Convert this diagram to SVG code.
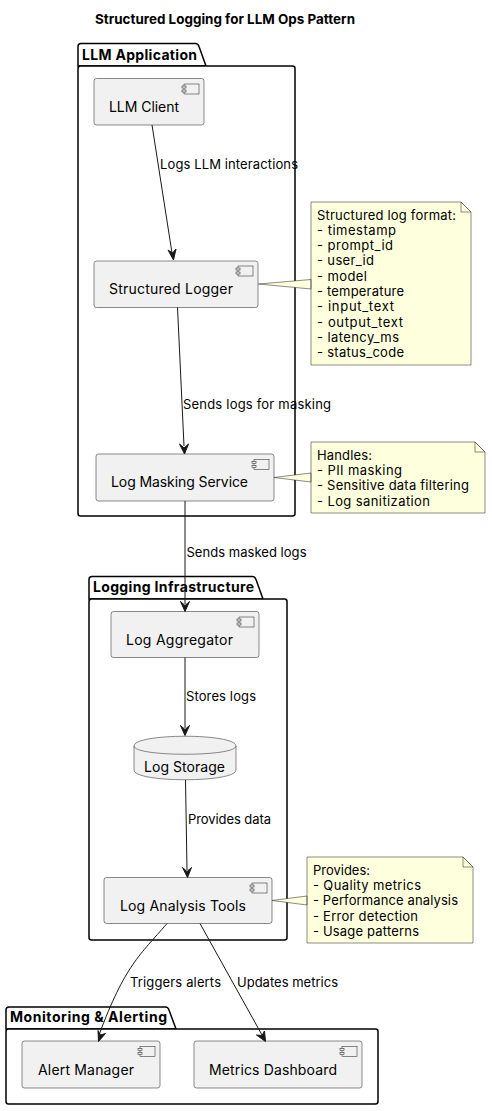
<svg xmlns="http://www.w3.org/2000/svg" width="492" height="1111" viewBox="0 0 492 1111">
<defs>
<style>
text{font-family:Inter,"Noto Sans",sans-serif;fill:#000}
.title{font-size:13.400px;font-weight:700}
.pkgt{font-size:14px;font-weight:700}
.lbl{font-size:13px}
.nt{font-size:13px}
.cl{font-size:14px}
.pkg{fill:#fff;stroke:#000;stroke-width:1.5}
.box{fill:#f1f1f1;stroke:#181818;stroke-width:.5}
.ico{fill:#f1f1f1;stroke:#181818;stroke-width:.5}
.note{fill:#feffdd;stroke:#181818;stroke-width:.5}
.edge{fill:none;stroke:#181818;stroke-width:1}
.head{fill:#181818;stroke:#181818;stroke-width:1}
</style>
<g id="icon"><rect class="ico" x="-15" y="0" width="15" height="10"/><rect class="ico" x="-17" y="2" width="4" height="2"/><rect class="ico" x="-17" y="6" width="4" height="2"/></g>
</defs>
<rect width="492" height="1111" fill="#fff"/>
<text class="title" x="95" y="24" textLength="260">Structured Logging for LLM Ops Pattern</text>

<g id="pkg-llm">
<path class="pkg" d="M78 66V46.500Q78 43.500 81 43.500H195.500Q198 43.500 199 46.500L206 66Z"/>
<rect class="pkg" x="78" y="66" width="217" height="450" rx="2.500"/>
<text class="pkgt" x="82" y="60" textLength="115">LLM Application</text>
</g>
<g id="pkg-infra">
<path class="pkg" d="M89 599V579.500Q89 576.500 92 576.500H252.500Q255 576.500 256 579.500L263 599Z"/>
<rect class="pkg" x="89" y="599" width="198" height="341" rx="2.500"/>
<text class="pkgt" x="93" y="592" textLength="161">Logging Infrastructure</text>
</g>
<g id="pkg-mon">
<path class="pkg" d="M6 1029V1010Q6 1007 9 1007H165.500Q168 1007 169 1010L176 1029Z"/>
<rect class="pkg" x="6" y="1029" width="372" height="75" rx="2.500"/>
<text class="pkgt" x="10" y="1022" textLength="157">Monitoring &amp; Alerting</text>
</g>

<g id="n-client"><rect class="box" x="94" y="78.500" width="110" height="46.500" rx="2.500"/><use href="#icon" x="199" y="84"/><text class="cl" x="109" y="112" textLength="70">LLM Client</text></g>
<g id="n-logger"><rect class="box" x="94" y="261" width="164" height="46.500" rx="2.500"/><use href="#icon" x="253" y="266"/><text class="cl" x="109" y="294" textLength="124">Structured Logger</text></g>
<g id="n-mask"><rect class="box" x="96" y="454" width="178" height="47" rx="2.500"/><use href="#icon" x="269" y="459.500"/><text class="cl" x="111" y="487" textLength="137">Log Masking Service</text></g>
<g id="n-agg"><rect class="box" x="111" y="611.500" width="148" height="46" rx="2.500"/><use href="#icon" x="254" y="617"/><text class="cl" x="126" y="645" textLength="107">Log Aggregator</text></g>
<g id="n-storage"><path class="box" d="M134 746C134 733 236 733 236 746V770C236 783 134 783 134 770Z"/><path class="box" style="fill:none" d="M134 746C134 757 236 757 236 746"/><text class="cl" x="144" y="772" textLength="81">Log Storage</text></g>
<g id="n-tools"><rect class="box" x="104" y="877.500" width="168" height="46" rx="2.500"/><use href="#icon" x="267" y="883"/><text class="cl" x="120" y="911" textLength="126">Log Analysis Tools</text></g>
<g id="n-alert"><rect class="box" x="22" y="1041" width="138" height="47" rx="2.500"/><use href="#icon" x="155" y="1046.500"/><text class="cl" x="38" y="1075" textLength="96">Alert Manager</text></g>
<g id="n-metrics"><rect class="box" x="194" y="1041" width="168" height="47" rx="2.500"/><use href="#icon" x="357" y="1046.500"/><text class="cl" x="209" y="1075" textLength="128">Metrics Dashboard</text></g>

<g id="n-note1">
<path class="note" d="M311 202H461L471 212V365H311V279.500L258.500 284L311 289Z"/>
<path class="note" d="M461 202V212H471Z"/>
<text class="nt" x="317" y="220" textLength="139">Structured log format:</text><text class="nt" x="317" y="235" textLength="79">- timestamp</text><text class="nt" x="317" y="250" textLength="76">- prompt_id</text><text class="nt" x="317" y="265" textLength="57">- user_id</text><text class="nt" x="317" y="281" textLength="50">- model</text><text class="nt" x="317" y="296" textLength="87">- temperature</text><text class="nt" x="317" y="311" textLength="77">- input_text</text><text class="nt" x="317" y="327" textLength="86">- output_text</text><text class="nt" x="317" y="342" textLength="82">- latency_ms</text><text class="nt" x="317" y="357" textLength="87">- status_code</text>
</g>
<g id="n-note2">
<path class="note" d="M311 442H475L485 452V513H311V473L274 477.500L311 482Z"/>
<path class="note" d="M475 442V452H485Z"/>
<text class="nt" x="317" y="460" textLength="55">Handles:</text><text class="nt" x="317" y="475" textLength="85">- PII masking</text><text class="nt" x="317" y="490" textLength="152">- Sensitive data filtering</text><text class="nt" x="317" y="506" textLength="113">- Log sanitization</text>
</g>
<g id="n-note3">
<path class="note" d="M307 857H463L473 867V943H307V896L272 900.500L307 905Z"/>
<path class="note" d="M463 857V867H473Z"/>
<text class="nt" x="313" y="875" textLength="57">Provides:</text><text class="nt" x="313" y="890" textLength="108">- Quality metrics</text><text class="nt" x="313" y="905" textLength="145">- Performance analysis</text><text class="nt" x="313" y="921" textLength="105">- Error detection</text><text class="nt" x="313" y="936" textLength="106">- Usage patterns</text>
</g>

<g id="connectors">
<path class="edge" d="M152 125L172 253"/>
<path class="head" d="M173.500 260L168 250L172.500 253L176 249Z"/>
<path class="edge" d="M177.500 307.500L184 446"/>
<path class="head" d="M184.500 454L179.500 444L184 448L188.500 444Z"/>
<path class="edge" d="M185 501V604"/>
<path class="head" d="M185 611.500L180.500 601.500L185 605.500L189.500 601.500Z"/>
<path class="edge" d="M185 657.500V728"/>
<path class="head" d="M185 735.500L180.500 725.500L185 729.500L189.500 725.500Z"/>
<path class="edge" d="M185.500 780L187 870"/>
<path class="head" d="M187.500 877.500L182.500 867.500L187 871.500L191.500 867.500Z"/>
<path class="edge" d="M167 923.500C140 955 125 965 99 1035"/>
<path class="head" d="M98.500 1041.500L98 1030.500L100.500 1035L105.500 1033.500Z"/>
<path class="edge" d="M200 923.500L262 1035"/>
<path class="head" d="M265.500 1041.500L256.500 1035L262 1035.500L264.500 1031Z"/>
<text class="lbl" x="160" y="169" textLength="138">Logs LLM interactions</text>
<text class="lbl" x="183" y="409" textLength="148">Sends logs for masking</text>
<text class="lbl" x="186.500" y="557" textLength="120">Sends masked logs</text>
<text class="lbl" x="186" y="701" textLength="70">Stores logs</text>
<text class="lbl" x="188" y="824" textLength="83">Provides data</text>
<text class="lbl" x="130" y="987" textLength="91">Triggers alerts</text>
<text class="lbl" x="237" y="987" textLength="101">Updates metrics</text>
</g>
</svg>
